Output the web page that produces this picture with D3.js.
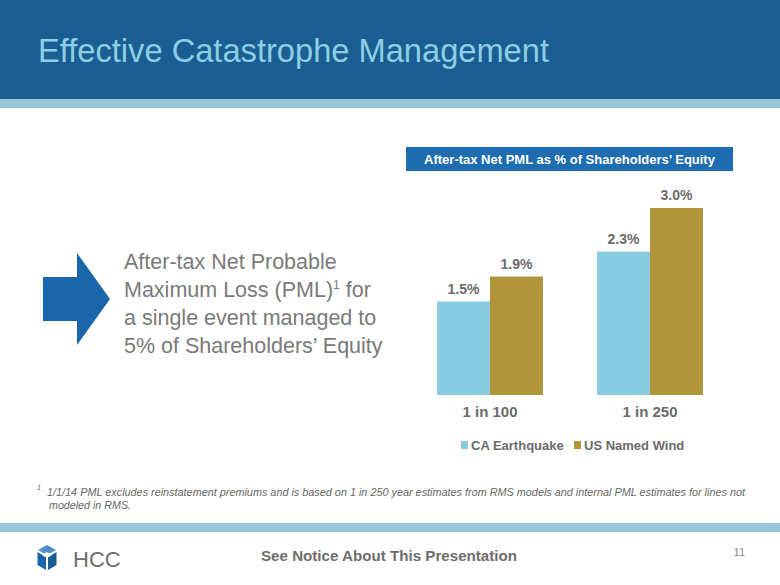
<!DOCTYPE html>
<html><head><meta charset="utf-8">
<script src="https://cdn.jsdelivr.net/npm/d3@7/dist/d3.min.js"></script>
<style>html,body{margin:0;padding:0;background:#fff;}svg{display:block;}</style>
</head><body>
<script>
const categories = ["1 in 100", "1 in 250"];
const seriesNames = ["CA Earthquake", "US Named Wind"];
const caEarthquake = [1.5, 2.3];
const usNamedWind = [1.9, 3.0];
const valueLabels = [["1.5%", "2.3%"], ["1.9%", "3.0%"]];
const seriesColors = ["#89cbe0", "#b0953a"];

const W = 780, H = 585;
const svg = d3.select("body").append("svg").attr("width", W).attr("height", H);
const font = "Arial, 'Liberation Sans', Helvetica, sans-serif";

// header
svg.append("rect").attr("x",0).attr("y",0).attr("width",W).attr("height",99).attr("fill","#1a5e93");
svg.append("rect").attr("x",0).attr("y",99).attr("width",W).attr("height",9).attr("fill","#96c5d7");
svg.append("text").attr("x",38).attr("y",62).attr("font-family",font).attr("font-size",33)
  .attr("fill","#8ecee3").attr("textLength",511).attr("lengthAdjust","spacingAndGlyphs")
  .text("Effective Catastrophe Management");

// bottom strip
svg.append("rect").attr("x",0).attr("y",523).attr("width",W).attr("height",9).attr("fill","#96c5d7");

// arrow
svg.append("path").attr("d","M43,277 L77,277 L77,253 L110,299 L77,345 L77,321 L43,321 Z").attr("fill","#1a66ab");

// paragraph
const para = svg.append("text").attr("font-family",font).attr("font-size",21.5).attr("fill","#7a7a7a");
const lines = ["After-tax Net Probable", null, "a single event managed to", "5% of Shareholders\u2019 Equity"];
const lineY = [269, 297, 325, 353];
lines.forEach((l,i)=>{
  if (l !== null) {
    para.append("tspan").attr("x",124).attr("y",lineY[i]).text(l);
  } else {
    para.append("tspan").attr("x",124).attr("y",lineY[i]).text("Maximum Loss (PML)");
    para.append("tspan").attr("font-size",12).attr("dy",-8).text("1");
    para.append("tspan").attr("dy",8).text(" for");
  }
});

// banner
svg.append("rect").attr("x",406).attr("y",147).attr("width",327).attr("height",24).attr("fill","#1f6db1");
svg.append("text").attr("x",569.5).attr("y",164).attr("text-anchor","middle").attr("font-family",font)
  .attr("font-weight","bold").attr("font-size",13).attr("fill","#fff")
  .text("After-tax Net PML as % of Shareholders\u2019 Equity");

// chart
const x0 = d3.scaleBand().domain(categories).range([410,730]).paddingInner(0.3375).paddingOuter(0.16875);
const x1 = d3.scaleBand().domain(seriesNames).range([0, x0.bandwidth()]);
const y = d3.scaleLinear().domain([0,3.0]).range([395,208]);
const seriesData = [caEarthquake, usNamedWind];

const g = svg.append("g");
seriesNames.forEach((s,si)=>{
  categories.forEach((c,ci)=>{
    const v = seriesData[si][ci];
    const bx = x0(c) + x1(s);
    g.append("rect").attr("x",bx).attr("y",y(v)).attr("width",x1.bandwidth()).attr("height",y(0)-y(v))
      .attr("fill",seriesColors[si]);
    g.append("text").attr("x",bx + x1.bandwidth()/2).attr("y",y(v)-8).attr("text-anchor","middle")
      .attr("font-family",font).attr("font-weight","bold").attr("font-size",14).attr("fill","#6b6b6b")
      .text(valueLabels[si][ci]);
  });
});

const xAxis = svg.append("g").attr("transform","translate(0,395)")
  .call(d3.axisBottom(x0).tickSize(0).tickPadding(0));
xAxis.select(".domain").remove();
xAxis.selectAll("text").attr("y",22).attr("dy",0).attr("font-family",font).attr("font-weight","bold")
  .attr("font-size",15).attr("fill","#6b6b6b");

// legend
const legendX = [461, 574];
seriesNames.forEach((s,i)=>{
  svg.append("rect").attr("x",legendX[i]).attr("y",441).attr("width",7).attr("height",8).attr("fill",seriesColors[i]);
  svg.append("text").attr("x",legendX[i]+10).attr("y",450).attr("font-family",font).attr("font-weight","bold")
    .attr("font-size",13).attr("fill","#6b6b6b").text(s);
});

// footnote
svg.append("text").attr("x",37).attr("y",490).attr("font-family",font).attr("font-size",7).attr("font-style","italic")
  .attr("fill","#666").text("1");
svg.append("text").attr("x",47).attr("y",496).attr("font-family",font).attr("font-size",10.5).attr("font-style","italic")
  .attr("fill","#666").attr("textLength",698).attr("lengthAdjust","spacingAndGlyphs")
  .text("1/1/14 PML excludes reinstatement premiums and is based on 1 in 250 year estimates from RMS models and internal PML estimates for lines not");
svg.append("text").attr("x",49).attr("y",509).attr("font-family",font).attr("font-size",10.5).attr("font-style","italic")
  .attr("fill","#666").attr("textLength",82).attr("lengthAdjust","spacingAndGlyphs")
  .text("modeled in RMS.");

// footer
const logo = svg.append("g");
logo.append("path").attr("d","M47,545 L56,550 L47,555 L38,550 Z").attr("fill","#4d8fc6");
logo.append("path").attr("d","M37.5,552 L46,557 L46,570 L37.5,565 Z").attr("fill","#1a66ab");
logo.append("path").attr("d","M48,557 L56.5,552 L56.5,565 L48,570 Z").attr("fill","#1a5e93");
logo.append("path").attr("d","M47,552 L52,555 L47,558 L42,555 Z").attr("fill","#fff");
svg.append("text").attr("x",73).attr("y",567).attr("font-family",font).attr("font-size",22)
  .attr("fill","#6d6d6d").text("HCC");
svg.append("text").attr("x",389).attr("y",561).attr("text-anchor","middle").attr("font-family",font)
  .attr("font-weight","bold").attr("font-size",15).attr("fill","#6d6d6d")
  .attr("textLength",256).attr("lengthAdjust","spacingAndGlyphs")
  .text("See Notice About This Presentation");
svg.append("text").attr("x",745).attr("y",556).attr("text-anchor","end").attr("font-family",font)
  .attr("font-size",11).attr("fill","#888").text("11");
</script>
</body></html>
